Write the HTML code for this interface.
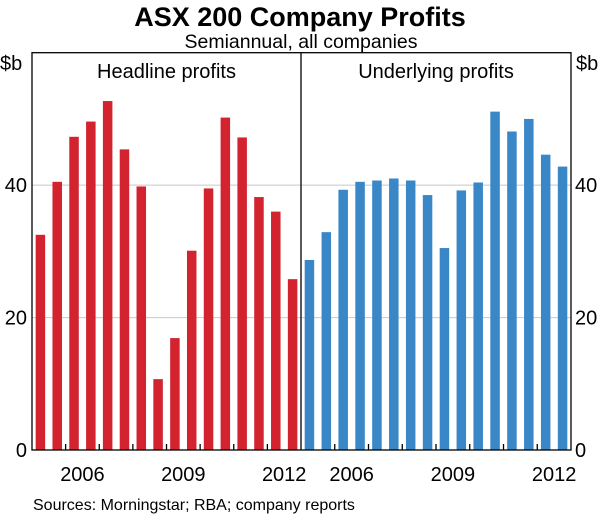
<!DOCTYPE html>
<html><head><meta charset="utf-8"><style>
body{margin:0;background:#fff;font-family:"Liberation Sans",Arial,sans-serif}
</style></head><body>
<svg id="c" width="600" height="516" xmlns="http://www.w3.org/2000/svg" font-family="Liberation Sans, Arial, sans-serif">
<text x="300" y="26" text-anchor="middle" font-size="27" font-weight="bold">ASX 200 Company Profits</text>
<text x="301" y="48" text-anchor="middle" font-size="19.5">Semiannual, all companies</text>
<text x="33" y="510" font-size="16">Sources: Morningstar; RBA; company reports</text>
<g id="g"></g>
</svg>
<script>
const headline=[32.5,40.5,47.3,49.6,52.7,45.4,39.8,10.7,16.9,30.1,39.5,50.2,47.2,38.2,36.0,25.8];
const underlying=[28.7,32.9,39.3,40.5,40.7,41.0,40.7,38.5,30.5,39.2,40.4,51.1,48.1,50.0,44.6,42.8];
const yTicks=[0,20,40];
const yearLabels=["2006","2009","2012"];
const ns="http://www.w3.org/2000/svg";
const g=document.getElementById('g');
const top0=52.7,bot=450,ymax=60;
const y=v=>bot-(bot-top0)*v/ymax;
const panels=[{x0:32,x1:301,data:headline,color:"#d2232e",title:"Headline profits",key:"headline"},
{x0:301,x1:571,data:underlying,color:"#3a87c8",title:"Underlying profits",key:"underlying"}];
function el(t,a,txt){const e=document.createElementNS(ns,t);for(const k in a)e.setAttribute(k,a[k]);if(txt!=null)e.textContent=txt;g.appendChild(e);return e;}
yTicks.forEach(v=>{if(v>0){const l=el('line',{x1:32,x2:571,y1:y(v),y2:y(v),stroke:'#c8c8c8','stroke-width':1});

}
const a=el('text',{x:27,y:y(v)+7,'text-anchor':'end','font-size':20},String(v));


const b=el('text',{x:575,y:y(v)+7,'font-size':20},String(v));

});
let u1=el('text',{x:0,y:70,'font-size':20},'$b');


let u2=el('text',{x:576,y:70,'font-size':20},'$b');


panels.forEach(p=>{
 const n=p.data.length,slot=(p.x1-p.x0)/n,bw=9.5;
 p.data.forEach((v,i)=>{const cx=p.x0+slot*(i+0.5);
  const r=el('rect',{x:cx-bw/2,y:y(v),width:bw,height:bot-y(v),fill:p.color});
  
  });
 for(let k=1;k<n/2;k++){const tx=p.x0+slot*2*k;
  const t=el('line',{x1:tx,x2:tx,y1:bot,y2:bot-6,stroke:'#000','stroke-width':1.3});
  
  }
 yearLabels.forEach((lab,j)=>{const cx=p.x0+slot*(2+6*j+1);
  const t=el('text',{x:cx,y:481,'text-anchor':'middle','font-size':20},lab);
  
  });
 const tt=el('text',{x:(p.x0+p.x1)/2,y:78,'text-anchor':'middle','font-size':20},p.title);
 
 
});
const fr=el('rect',{x:32,y:top0,width:539,height:bot-top0,fill:'none',stroke:'#000','stroke-width':1.3});


const dv=el('line',{x1:301,x2:301,y1:top0,y2:bot,stroke:'#000','stroke-width':1.3});


</script>
</body></html>
